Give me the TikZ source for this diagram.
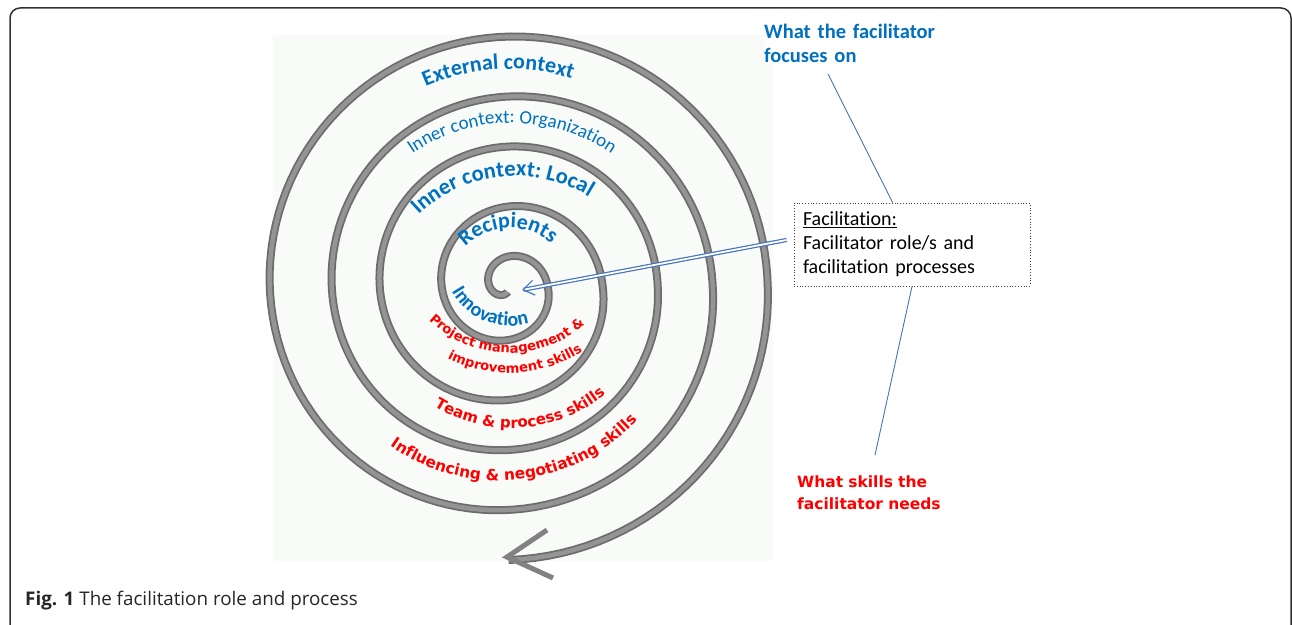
\documentclass[tikz,border=0pt]{standalone}
\usepackage{fontspec}
\setmainfont{Carlito}[Ligatures=NoCommon]
\newfontfamily\comicfont{DejaVu Sans}
\newfontfamily\capfont{Open Sans}
\usetikzlibrary{decorations.text,arrows.meta,positioning}

\definecolor{ctxblue}{RGB}{0,112,192}
\definecolor{skillred}{RGB}{255,0,0}
\definecolor{linkblue}{RGB}{68,114,196}
\definecolor{paper}{RGB}{248,251,247}
\definecolor{coil}{RGB}{108,108,108}
\definecolor{coilhi}{RGB}{148,148,148}

\newcommand{\coilr}[1]{(11.75+#1/360*55+7*max(0,cos(#1/2)))}
\newcommand{\bluebig}{\bfseries\fontsize{22}{24}\selectfont\color{ctxblue}}
\newcommand{\redtext}[1]{\comicfont\bfseries\fontsize{#1}{#1}\selectfont\color{skillred}}

\tikzset{
  ring/.style={decorate, decoration={text along path, text={#1}, text align=center}},
  pointer/.style={draw=linkblue, line width=0.9pt},
}

\begin{document}
\begin{tikzpicture}[x=1pt,y=1pt]
  \useasboundingbox (0,0) rectangle (1292,624);
  \draw[black!80, line width=1.5pt, rounded corners=10pt] (10,616) rectangle (1291,-30);
  \fill[paper] (273,589) rectangle (773,63);

  % 渦巻き
  \foreach \w/\c in {8pt/coil, 4.5pt/coilhi} {
    \draw[\c, line width=\w] plot[domain=-80:1710, samples=640, variable=\t]
      ({508.5-\coilr{\t}*cos(\t)}, {337+\coilr{\t}*sin(\t)});
  }
  \coordinate (tail) at (507,67);
  \draw[coil!85, line width=5pt] (tail) ++(40,27) -- (tail) -- ++(46,-21);

  % 渦の中のラベル
  \path[ring={|\bluebig|External context}] (509,348) ++(140:207) arc[start angle=140, end angle=46, radius=207];
  \path[ring={|\fontsize{19}{19}\selectfont\color{ctxblue}|Inner context: Organization}] (512,324) ++(140:177) arc[start angle=140, end angle=40, radius=177];
  \path[ring={|\bfseries\fontsize{22.5}{24}\selectfont\color{ctxblue}|Inner context: Local}] (515.5,308) ++(150:140) arc[start angle=150, end angle=42, radius=140];
  \path[ring={|\bluebig|Recipients}] (510,333) ++(160:63) arc[start angle=160, end angle=24, radius=63];
  \path[ring={|\bfseries\fontsize{20}{20}\selectfont\color{ctxblue}|Innovation}] (510,365) ++(190:67) arc[start angle=190, end angle=306, radius=67];

  \path[ring={|\redtext{13.2}|Project management {\&}}] (509,386) ++(210:115) arc[start angle=210, end angle=327, radius=115];
  \path[ring={|\redtext{13.2}|improvement skills}] (509,386) ++(225:135) arc[start angle=225, end angle=321, radius=135];
  \path[ring={|\redtext{15}|Team {\&} process skills}] (511.5,344) ++(220:148) arc[start angle=220, end angle=328, radius=148];
  \path[ring={|\redtext{15.4}|Influencing {\&} negotiating skills}] (499,332.5) ++(220:189) arc[start angle=220, end angle=332, radius=189];

  % 右側のラベル
  \node[anchor=base west, text width=175pt, inner sep=0pt, fill=white, align=left,
    font=\bfseries\fontsize{20.5}{24}\selectfont, text=ctxblue] (focus) at (764,585)
    {What the facilitator\\focuses on};
  \node[draw=black!75, dotted, line width=0.8pt, text width=218pt, inner xsep=9pt, inner ysep=0pt,
    minimum height=83pt, align=left, font=\fontsize{20}{24}\selectfont] (facbox) at (912,379.5)
    {\underline{Facilitation:}\\Facilitator role/s and\\facilitation processes};
  \node[anchor=base west, text width=165pt, inner sep=0pt, align=left,
    font=\comicfont\bfseries\fontsize{15.5}{22}\selectfont, text=skillred] (skills) at (797,137)
    {What skills the\\facilitator needs};

  \coordinate (core) at (522,334);
  \draw[pointer] ([xshift=64pt,yshift=-35pt]focus.base west) -- ([xshift=99pt]facbox.north west);
  \draw[pointer] (facbox.south) -- ([xshift=78pt,yshift=32pt]skills.base west);
  \draw[linkblue, line width=1.2pt, double=white, double distance=1.8pt,
    -{Straight Barb[length=11pt,width=15pt]}] ([shift={(-7pt,4.5pt)}]facbox.west) -- (core);

  \node[anchor=base west, inner sep=0pt, font=\capfont\fontsize{18.8}{18.8}\selectfont, text=black!85] (caption) at (25,19)
    {\textbf{Fig. 1} The facilitation role and process};
\end{tikzpicture}
\end{document}
